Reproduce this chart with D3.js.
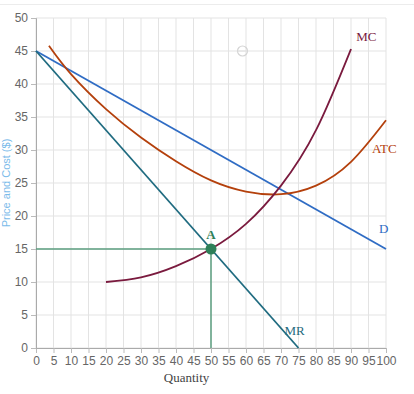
<!DOCTYPE html>
<html lang="en">
<head>
<meta charset="utf-8">
<title>Monopoly cost and revenue curves</title>
<script src="https://cdn.jsdelivr.net/npm/d3@7"></script>
<style>
    body { margin: 0; background: #fff; }
    .tick text { font-family: "Liberation Sans", Arial, sans-serif; font-size: 12px; fill: #666; }
    .grid line { stroke: #e3e3e3; }
    .curveLabel { font-family: "Liberation Serif", "Times New Roman", serif; font-size: 13px; }
</style>
</head>
<body>
<script>
    // values
    var xTicks = d3.range(0, 101, 5);
    var yTicks = d3.range(0, 51, 5);

    var demandQ = [0, 100];
    var demandP = [45, 15];

    var mrQ = [0, 75];
    var mrP = [45, 0];

    var mcQ = [20, 30, 40, 50, 60, 70, 80, 90];
    var mcP = [10, 10.7, 12.4, 15, 18.8, 24.6, 33.0, 45.3];

    var atcQ = [3.7, 10, 20, 30, 40, 50, 60, 70, 80, 90, 100];
    var atcP = [45.8, 41.5, 36.2, 31.9, 28.3, 25.4, 23.7, 23.3, 24.6, 28.2, 34.5];

    var pointA = {q: 50, p: 15};
    var handle = {q: 59, p: 45};

    var margin = {top: 18, right: 28, bottom: 46, left: 36},
        width = 414 - margin.left - margin.right,
        height = 394 - margin.top - margin.bottom;

    var svg = d3.select("body").append("svg")
        .attr("width", 414)
        .attr("height", 394);

    // faint frame line along the top
    svg.append("line")
        .attr("x1", 0).attr("x2", 414)
        .attr("y1", 4.5).attr("y2", 4.5)
        .attr("stroke", "#ececec");

    var g = svg.append("g")
        .attr("transform", "translate(" + margin.left + "," + margin.top + ")");

    var x = d3.scaleLinear().domain([0, 100]).range([0, width]);
    var y = d3.scaleLinear().domain([0, 50]).range([height, 0]);

    // grid
    g.append("g").attr("class", "grid")
        .selectAll("line.v").data(xTicks).enter().append("line")
        .attr("x1", function(d) { return x(d); }).attr("x2", function(d) { return x(d); })
        .attr("y1", 0).attr("y2", height);
    g.append("g").attr("class", "grid")
        .selectAll("line.h").data(yTicks).enter().append("line")
        .attr("y1", function(d) { return y(d); }).attr("y2", function(d) { return y(d); })
        .attr("x1", 0).attr("x2", width);

    var xAxis = g.append("g")
        .attr("transform", "translate(0," + height + ")")
        .call(d3.axisBottom(x).tickValues(xTicks).tickSize(5).tickPadding(3));
    var yAxis = g.append("g")
        .call(d3.axisLeft(y).tickValues(yTicks).tickSize(5).tickPadding(3));
    [xAxis, yAxis].forEach(function(a) {
        a.select(".domain").attr("stroke", "#aaa");
        a.selectAll(".tick line").attr("stroke", "#bbb");
    });

    // axis titles
    g.append("text")
        .attr("class", "curveLabel")
        .attr("x", x(43)).attr("y", height + 34)
        .attr("text-anchor", "middle")
        .attr("fill", "#444")
        .text("Quantity");
    svg.append("text")
        .attr("transform", "translate(10," + (margin.top + y(25)) + ") rotate(-90)")
        .attr("text-anchor", "middle")
        .style("font-family", "Liberation Sans, Arial, sans-serif")
        .style("font-size", "11px")
        .attr("fill", "#7bbbea")
        .text("Price and Cost ($)");

    // handle circle
    g.append("circle")
        .attr("cx", x(handle.q)).attr("cy", y(handle.p)).attr("r", 5)
        .attr("fill", "none").attr("stroke", "#d4d4d4").attr("stroke-width", 1.2);
    g.append("line")
        .attr("x1", x(handle.q) - 5).attr("x2", x(handle.q) + 5)
        .attr("y1", y(handle.p)).attr("y2", y(handle.p))
        .attr("stroke", "#e0e0e0");

    function pts(qs, ps) { return qs.map(function(q, i) { return [q, ps[i]]; }); }

    var line = d3.line()
        .x(function(d) { return x(d[0]); })
        .y(function(d) { return y(d[1]); });
    var smooth = d3.line()
        .curve(d3.curveNatural)
        .x(function(d) { return x(d[0]); })
        .y(function(d) { return y(d[1]); });

    // green guide lines through A
    g.append("path")
        .attr("d", line([[0, pointA.p], [pointA.q, pointA.p], [pointA.q, 0]]))
        .attr("fill", "none").attr("stroke", "#5c9e80").attr("stroke-width", 1.5);

    g.append("path").attr("d", line(pts(demandQ, demandP)))
        .attr("fill", "none").attr("stroke", "#2f6cc4").attr("stroke-width", 1.8);
    g.append("path").attr("d", line(pts(mrQ, mrP)))
        .attr("fill", "none").attr("stroke", "#1f6b80").attr("stroke-width", 1.8);
    g.append("path").attr("d", smooth(pts(atcQ, atcP)))
        .attr("fill", "none").attr("stroke", "#b4400c").attr("stroke-width", 1.8);
    g.append("path").attr("d", smooth(pts(mcQ, mcP)))
        .attr("fill", "none").attr("stroke", "#7a1a3e").attr("stroke-width", 1.8);

    g.append("circle")
        .attr("cx", x(pointA.q)).attr("cy", y(pointA.p)).attr("r", 5.5)
        .attr("fill", "#2e8059");

    var labels = [
        {t: "MC", q: 91.5, p: 46.5, c: "#7a1a3e", a: "start"},
        {t: "ATC", q: 96, p: 29.5, c: "#b4400c", a: "start"},
        {t: "D", q: 98, p: 17.5, c: "#2f6cc4", a: "start"},
        {t: "MR", q: 71, p: 2, c: "#1f6b80", a: "start"},
        {t: "A", q: 50, p: 16.5, c: "#2e8059", a: "middle"}
    ];
    g.selectAll(".lbl").data(labels).enter().append("text")
        .attr("class", "curveLabel")
        .attr("x", function(d) { return x(d.q); })
        .attr("y", function(d) { return y(d.p); })
        .attr("text-anchor", function(d) { return d.a; })
        .attr("fill", function(d) { return d.c; })
        .style("font-weight", function(d) { return d.t === "A" ? "bold" : "normal"; })
        .text(function(d) { return d.t; });
</script>
</body>
</html>
